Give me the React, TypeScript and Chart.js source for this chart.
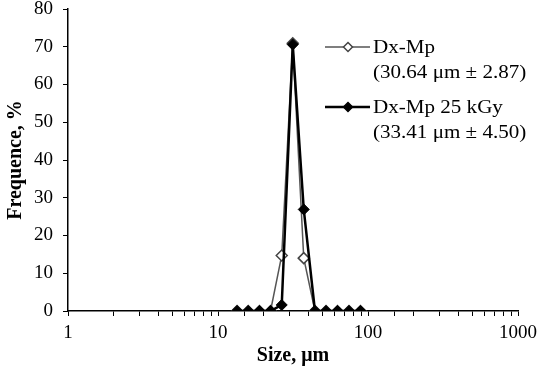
import React, { useEffect, useRef } from "react";
import { Chart, registerables } from "chart.js";

Chart.register(...registerables);

const sizes = [13.4, 15.9, 18.9, 22.4, 26.6, 31.5, 37.3, 44.3, 52.5, 62.6, 74.7, 89.1];
const mpValues = [0, 0, 0, 0, 14.7, 70.9, 14.0, 0, 0, 0, 0, 0];
const gyValues = [0, 0, 0, 0, 1.6, 70.6, 26.9, 0, 0, 0, 0, 0];
const xMajorTicks = [1, 10, 100, 1000];
const legendLines = [
  ["Dx-Mp", "(30.64 μm ± 2.87)"],
  ["Dx-Mp 25 kGy", "(33.41 μm ± 4.50)"],
];

const FONT = "'Liberation Serif', 'Times New Roman', serif";

const legendPlugin = {
  id: "customLegend",
  afterDraw(chart: any) {
    const ctx = chart.ctx;
    ctx.save();
    const items = [
      { y: 47, fill: "#fff", stroke: "#444", lw: 1.5, lineColor: "#555" },
      { y: 107, fill: "#000", stroke: "#000", lw: 2.5, lineColor: "#000" },
    ];
    items.forEach((it, i) => {
      ctx.beginPath();
      ctx.strokeStyle = it.lineColor;
      ctx.lineWidth = it.lw;
      ctx.moveTo(325, it.y);
      ctx.lineTo(370, it.y);
      ctx.stroke();
      const cx = 348;
      const r = 4.5;
      ctx.beginPath();
      ctx.moveTo(cx, it.y - r);
      ctx.lineTo(cx + r, it.y);
      ctx.lineTo(cx, it.y + r);
      ctx.lineTo(cx - r, it.y);
      ctx.closePath();
      ctx.fillStyle = it.fill;
      ctx.fill();
      ctx.lineWidth = 1.5;
      ctx.strokeStyle = it.stroke;
      ctx.stroke();
      ctx.fillStyle = "#000";
      ctx.font = `18px ${FONT}`;
      ctx.textBaseline = "middle";
      ctx.textAlign = "left";
      ctx.save();
      ctx.translate(373, it.y + 1);
      ctx.scale(1.17, 1);
      ctx.fillText(legendLines[i][0], 0, 0);
      ctx.fillText(legendLines[i][1], 0, 25);
      ctx.restore();
    });
    ctx.restore();
  },
};

export default function App() {
  const ref = useRef<HTMLCanvasElement | null>(null);
  useEffect(() => {
    if (!ref.current) return;
    const chart = new Chart(ref.current, {
      type: "line",
      data: {
        datasets: [
          {
            label: "Dx-Mp 25 kGy",
            data: sizes.map((s, i) => ({ x: s, y: gyValues[i] })),
            borderColor: "#000",
            borderWidth: 2.5,
            pointStyle: "rectRot",
            pointRadius: 5.5,
            pointBackgroundColor: "#000",
            pointBorderColor: "#000",
            pointBorderWidth: 1,
            tension: 0,
          },
          {
            label: "Dx-Mp",
            data: sizes.map((s, i) => ({ x: s, y: mpValues[i] })),
            borderColor: "#555",
            borderWidth: 1.5,
            pointStyle: "rectRot",
            pointRadius: 5.5,
            pointBackgroundColor: "#fff",
            pointBorderColor: "#444",
            pointBorderWidth: 1.5,
            tension: 0,
          },
        ],
      },
      options: {
        animation: false,
        responsive: false,
        maintainAspectRatio: false,
        layout: { padding: { top: 9, right: 32, left: 0, bottom: 0 } },
        plugins: { legend: { display: false }, tooltip: { enabled: false } },
        scales: {
          x: {
            type: "logarithmic",
            min: 1,
            max: 1000,
            afterFit: (s: any) => {
              s.height = 61;
              s.paddingLeft = 0;
              s.paddingRight = 0;
            },
            grid: {
              display: true,
              drawOnChartArea: false,
              drawTicks: true,
              tickLength: 5,
              color: "#000",
              lineWidth: 1,
            },
            border: { display: true, color: "#000", width: 1.5 },
            ticks: {
              autoSkip: false,
              maxRotation: 0,
              padding: 6,
              color: "#000",
              font: { family: FONT, size: 19 },
              callback: (v: any) => (xMajorTicks.includes(Number(v)) ? String(v) : ""),
            },
            title: {
              display: true,
              text: "Size, μm",
              color: "#000",
              font: { family: FONT, size: 20, weight: "bold" },
              padding: { top: 0, bottom: 4 },
            },
          },
          y: {
            min: 0,
            max: 80,
            afterFit: (s: any) => {
              s.width = 68;
              s.paddingTop = 0;
              s.paddingBottom = 0;
            },
            grid: {
              display: true,
              drawOnChartArea: false,
              drawTicks: true,
              tickLength: 5,
              color: "#000",
            },
            border: { display: true, color: "#000", width: 1.5 },
            ticks: {
              stepSize: 10,
              padding: 10,
              color: "#000",
              font: { family: FONT, size: 19 },
            },
            title: {
              display: true,
              text: "Frequence, %",
              color: "#000",
              font: { family: FONT, size: 20, weight: "bold" },
              padding: { top: 4, bottom: 0 },
            },
          },
        },
      },
      plugins: [legendPlugin],
    } as any);
    return () => chart.destroy();
  }, []);
  return (
    <div style={{ position: "fixed", left: 0, top: 0, width: 550, height: 372, background: "#fff" }}>
      <canvas ref={ref} width={550} height={372} style={{ width: 550, height: 372 }} />
    </div>
  );
}
